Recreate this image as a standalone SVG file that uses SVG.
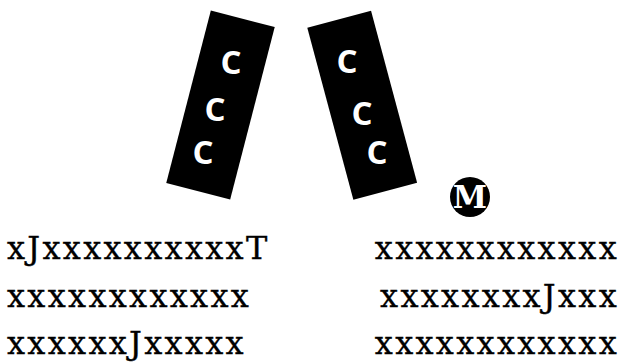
<svg xmlns="http://www.w3.org/2000/svg" width="623" height="362" viewBox="0 0 623 362">
<style>
.blk{fill:#000}
.c{font-family:"Open Sans","Liberation Sans",sans-serif;font-weight:bold;font-size:33px;fill:#fff;text-anchor:middle}
.t{font-family:"DejaVu Serif","Liberation Serif",serif;font-size:32px;letter-spacing:2.3px;fill:#000;stroke:#000;stroke-width:0.35px}
.m{font-family:"DejaVu Serif","Liberation Serif",serif;font-weight:bold;font-size:31px;fill:#fff;text-anchor:middle}
</style>
<rect width="623" height="362" fill="#fff"/>
<g id="block-left">
<rect class="blk" x="-33" y="-89" width="66" height="178" transform="translate(220.5 105) rotate(14.5)"/>
<text class="c" x="231" y="74">C</text>
<text class="c" x="215" y="121">C</text>
<text class="c" x="203" y="164">C</text>
</g>
<g id="block-right">
<rect class="blk" x="-33" y="-89" width="66" height="178" transform="translate(362.2 105.2) rotate(-15)"/>
<text class="c" x="347" y="73">C</text>
<text class="c" x="362" y="125">C</text>
<text class="c" x="377" y="164">C</text>
</g>
<g id="marker-m">
<circle cx="470" cy="197" r="20" class="blk"/>
<text class="m" x="470" y="208">M</text>
</g>
<g id="text-left">
<text class="t" x="7" y="259">xJxxxxxxxxxxT</text>
<text class="t" x="7" y="307">xxxxxxxxxxxx</text>
<text class="t" x="7" y="354">xxxxxxJxxxxx</text>
</g>
<g id="text-right">
<text class="t" x="619" y="259" text-anchor="end">xxxxxxxxxxxx</text>
<text class="t" x="619" y="307" text-anchor="end">xxxxxxxxJxxx</text>
<text class="t" x="619" y="354" text-anchor="end">xxxxxxxxxxxx</text>
</g>
<g id="connectors"></g>
</svg>
